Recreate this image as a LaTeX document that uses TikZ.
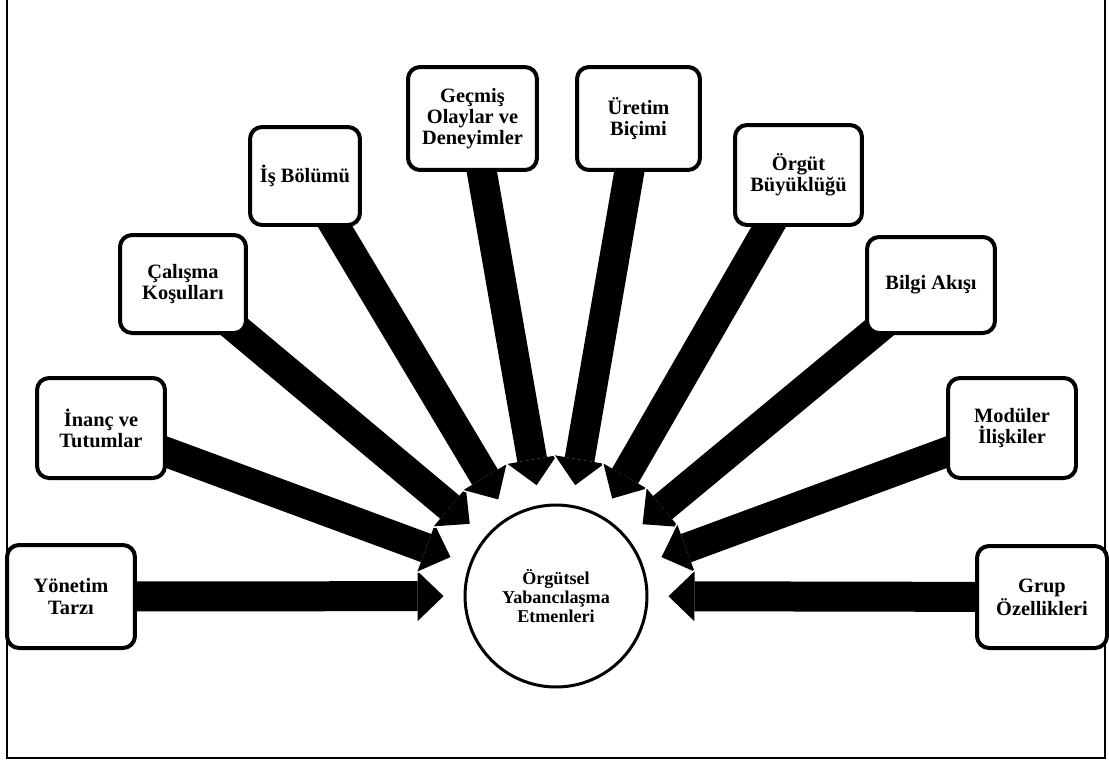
\documentclass[tikz,border=0pt]{standalone}
\usepackage{fontspec}
\setmainfont{Liberation Serif}
\usetikzlibrary{arrows.meta}
\pgfdeclarelayer{background}
\pgfsetlayers{background,main}

\tikzset{
  factor/.style={draw, line width=0.08cm, rounded corners=0.24cm, fill=white,
    align=center, inner sep=0pt,
    font=\bfseries\fontsize{11.6}{12}\selectfont},
  hubnode/.style={circle, draw, line width=0.06cm, fill=white,
    minimum size=3.64cm, inner sep=0pt, align=center,
    font=\bfseries\fontsize{10.3}{10.6}\selectfont},
  blockarrow/.style={line width=0.6cm, shorten >=0.4cm,
    -{Triangle[width=1cm, length=0.52cm, line width=0pt]}},
  blockhalo/.style={white, line width=0.68cm, shorten >=0.34cm,
    -{Triangle[width=1.12cm, length=0.6cm, line width=0pt]}},
  frameline/.style={line width=0.04cm},
}

\begin{document}
\begin{tikzpicture}[x=0.02cm, y=-0.02cm]
  \useasboundingbox (0,0) rectangle (1109,762);

  % outer frame (open at the top)
  \draw[frameline] (7,-20) -- (7,758) -- (1105,758) -- (1105,-20);

  % central concept
  \node[hubnode] (hub) at (556,596) {Örgütsel\\Yabancılaşma\\Etmenleri};

  % factors
  \node[factor, minimum width=2.56cm, minimum height=2.06cm] (yon)  at (71,596.5)  {Yönetim\\Tarzı};
  \node[factor, minimum width=2.56cm, minimum height=2.0cm]  (inan) at (101,428)   {İnanç ve\\Tutumlar};
  \node[factor, minimum width=2.52cm, minimum height=1.96cm] (cal)  at (183,284)   {Çalışma\\Koşulları};
  \node[factor, minimum width=2.2cm,  minimum height=1.96cm] (isb)  at (305,176)   {İş Bölümü};
  \node[factor, minimum width=2.58cm, minimum height=2.06cm] (gec)  at (472.5,118.5) {Geçmiş\\Olaylar ve\\Deneyimler};
  \node[factor, minimum width=2.46cm, minimum height=2.06cm] (ure)  at (638.5,118.5) {Üretim\\Biçimi};
  \node[factor, minimum width=2.54cm, minimum height=2.0cm]  (org)  at (798.5,175) {Örgüt\\Büyüklüğü};
  \node[factor, minimum width=2.56cm, minimum height=1.92cm] (bil)  at (931,285)   {Bilgi Akışı};
  \node[factor, minimum width=2.56cm, minimum height=2.0cm]  (mod)  at (1012,428)  {Modüler\\İlişkiler};
  \node[factor, minimum width=2.6cm,  minimum height=2.04cm] (grup) at (1042,597)  {Grup\\Özellikleri};

  % block arrows converging on the hub
  \begin{pgfonlayer}{background}
    \foreach \src in {yon,inan,cal,isb,gec,ure,org,bil,mod,grup} {
      \draw[blockhalo]  (\src.center) -- (hub);
      \draw[blockarrow] (\src.center) -- (hub);
    }
  \end{pgfonlayer}
\end{tikzpicture}
\end{document}
